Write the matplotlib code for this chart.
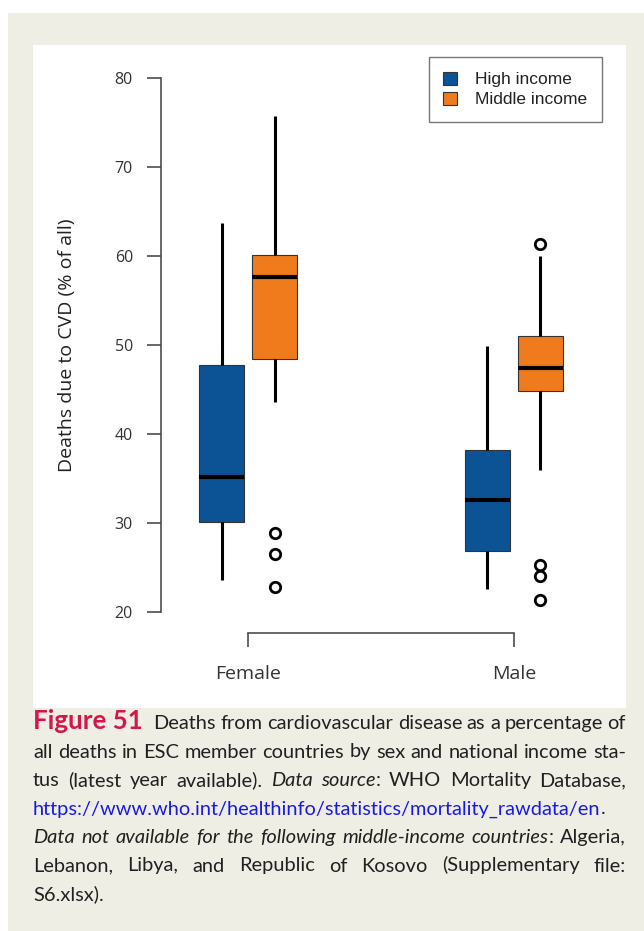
import matplotlib
matplotlib.use("Agg")
import matplotlib.pyplot as plt
from matplotlib.patches import Rectangle, Patch

# ---------------- data ----------------
groups = ["Female", "Male"]
series = ["High income", "Middle income"]
high_whislo = [23.6, 22.6]
high_q1 = [30.1, 26.8]
high_med = [35.2, 32.6]
high_q3 = [47.7, 38.2]
high_whishi = [63.7, 49.9]
high_fliers = [[], []]
mid_whislo = [43.6, 35.9]
mid_q1 = [48.4, 44.85]
mid_med = [57.6, 47.4]
mid_q3 = [60.1, 51.0]
mid_whishi = [75.8, 60.0]
mid_fliers = [[28.8, 26.5, 22.8], [61.4, 25.3, 24.0, 21.3]]
y_ticks = [20, 30, 40, 50, 60, 70, 80]
y_label = "Deaths due to CVD (% of all)"

W, H = 644, 931
fig = plt.figure(figsize=(W / 100, H / 100), dpi=100)
fig.patch.set_facecolor("white")

def fx(px):
    return px / W

def fy(py):
    return 1 - py / H

# background panels
fig.patches.append(Rectangle((fx(8), 0), 1 - fx(8), fy(13), transform=fig.transFigure,
                             facecolor="#efeee5", edgecolor="none", zorder=-10))
fig.patches.append(Rectangle((fx(33), fy(708)), fx(626) - fx(33), fy(45) - fy(708),
                             transform=fig.transFigure, facecolor="white",
                             edgecolor="none", zorder=-9))

ax_l, ax_r, ax_t, ax_b = 160.7, 601.5, 57, 633
ax = fig.add_axes([fx(ax_l), fy(ax_b), fx(ax_r) - fx(ax_l), fy(ax_t) - fy(ax_b)])
ax.set_facecolor("none")

blue = "#0b5394"
orange = "#ef7b1c"
offset = 0.1
bw = 0.17

def make_stats(wl, q1, med, q3, wh, fl):
    return [dict(whislo=wl[i], q1=q1[i], med=med[i], q3=q3[i], whishi=wh[i], fliers=fl[i])
            for i in range(len(wl))]

for stats, col, sgn in [
    (make_stats(high_whislo, high_q1, high_med, high_q3, high_whishi, high_fliers), blue, -1),
    (make_stats(mid_whislo, mid_q1, mid_med, mid_q3, mid_whishi, mid_fliers), orange, 1),
]:
    pos = [i + 1 + sgn * offset for i in range(len(groups))]
    ax.bxp(stats, positions=pos, widths=bw, patch_artist=True, showcaps=False,
           boxprops=dict(facecolor=col, edgecolor="#333333", linewidth=0.8),
           whiskerprops=dict(color="black", linewidth=2.2, solid_capstyle="butt"),
           medianprops=dict(color="black", linewidth=3.0, solid_capstyle="butt"),
           flierprops=dict(marker="o", markerfacecolor="none", markeredgecolor="black",
                           markersize=7.5, markeredgewidth=2.0),
           manage_ticks=False)

ax.set_xlim(0.671, 2.33)
ax.set_ylim(17.6, 82.4)

for s in ["top", "right"]:
    ax.spines[s].set_visible(False)
axcol = "#4d4d4d"
ax.spines["left"].set_bounds(20, 80)
ax.spines["bottom"].set_bounds(1, 2)
for s in ["left", "bottom"]:
    ax.spines[s].set_color(axcol)
    ax.spines[s].set_linewidth(1.2)

ax.set_yticks(y_ticks)
ax.set_yticklabels([str(t) for t in y_ticks], family="Open Sans", fontsize=11.5, color="#333333")
ax.set_xticks([1, 2])
ax.set_xticklabels(groups, family="Open Sans", fontsize=14, color="#333333")
ax.tick_params(axis="y", length=10, width=1.2, color=axcol, pad=10)
ax.tick_params(axis="x", length=10, width=1.2, color=axcol, pad=13)
ax.set_ylabel(y_label, family="Open Sans", fontsize=14, color="#222222")
ax.yaxis.label.set_va("center")
ax.yaxis.set_label_coords((67 - ax_l) / (ax_r - ax_l), 0.5)

handles = [Patch(facecolor=blue, edgecolor="#333333", linewidth=0.8),
           Patch(facecolor=orange, edgecolor="#333333", linewidth=0.8)]
leg = ax.legend(handles, series, loc="upper right", bbox_to_anchor=(1.0, 1.0),
                prop=dict(family="Liberation Sans", size=12.5), frameon=True, fancybox=False,
                handlelength=0.8, handleheight=0.8, handletextpad=1.0,
                borderpad=0.85, labelspacing=0.25, borderaxespad=0.0)
leg.get_frame().set_edgecolor("#555555")
leg.get_frame().set_linewidth(1.0)
for t in leg.get_texts():
    t.set_color("#222222")

# ---------------- caption (justified) ----------------
cap_font = "Lato"
cap_size = 14.4
txt_col = "#231f20"
red = "#d4174b"
link = "#1a1ae6"
R = "normal"
I = "italic"
B = "bold"
lines = [
    ([[("Figure 51", B, red)], [("Deaths", R, txt_col)], [("from", R, txt_col)],
      [("cardiovascular", R, txt_col)], [("disease", R, txt_col)], [("as", R, txt_col)],
      [("a", R, txt_col)], [("percentage", R, txt_col)], [("of", R, txt_col)]], True),
    ([[(w, R, txt_col)] for w in "all deaths in ESC member countries by sex and national income sta-".split()], True),
    ([[("tus", R, txt_col)], [("(latest", R, txt_col)], [("year", R, txt_col)],
      [("available).", R, txt_col)], [("Data", I, txt_col)],
      [("source", I, txt_col), (":", R, txt_col)], [("WHO", R, txt_col)],
      [("Mortality", R, txt_col)], [("Database,", R, txt_col)]], True),
    ([[("https://www.who.int/healthinfo/statistics/mortality_rawdata/en", R, link), (".", R, txt_col)]], False),
    ([[(w, I, txt_col)] for w in "Data not available for the following middle-income".split()]
     + [[("countries", I, txt_col), (":", R, txt_col)], [("Algeria,", R, txt_col)]], True),
    ([[(w, R, txt_col)] for w in "Lebanon, Libya, and Republic of Kosovo (Supplementary file:".split()], True),
    ([[("S6.xlsx).", R, txt_col)]], False),
]

fig.canvas.draw()
renderer = fig.canvas.get_renderer()
x0, x1 = 33, 626
base_first = 729
dy = 28.5

def style_kw(st):
    kw = dict(family=cap_font, fontsize=cap_size)
    if st == B:
        kw["weight"] = "bold"
        kw["fontsize"] = cap_size + 4.2
    elif st == I:
        kw["style"] = "italic"
    return kw

for li, (words, justify) in enumerate(lines):
    yb = fy(base_first + li * dy)
    measured = []
    for word in words:
        pieces = []
        for (s, st, c) in word:
            t = fig.text(0, yb, s, color=c, va="baseline", ha="left", **style_kw(st))
            w = t.get_window_extent(renderer).width
            if st == B:
                w += 6  # extra space after the bold figure label
            pieces.append((t, w))
        measured.append(pieces)
    widths = [sum(w for _, w in p) for p in measured]
    if justify and len(words) > 1:
        gap = (x1 - x0 - sum(widths)) / (len(words) - 1)
    else:
        gap = 5.0
    x = x0
    for pieces in measured:
        for t, w in pieces:
            t.set_x(fx(x))
            x += w
        x += gap

fig.savefig("out.png", dpi=100, facecolor=fig.get_facecolor())
